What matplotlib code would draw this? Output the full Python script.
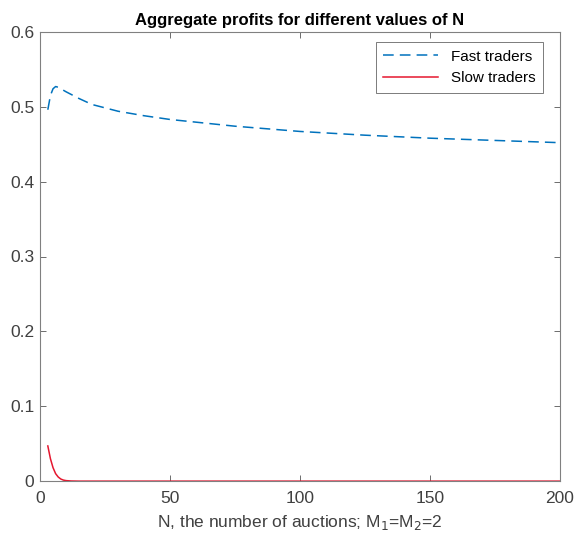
import matplotlib
matplotlib.use("Agg")
import matplotlib.pyplot as plt

n_fast = [3, 4, 5, 6, 7, 8, 10, 15, 20, 30, 40, 50, 75, 100, 125, 150, 175, 200]
fast = [0.496, 0.515, 0.524, 0.527, 0.526, 0.524, 0.520, 0.511, 0.503, 0.494, 0.488, 0.483,
        0.474, 0.467, 0.462, 0.458, 0.455, 0.452]
n_slow = [3, 4, 5, 6, 7, 8, 9, 10, 12, 15, 20, 50, 100, 150, 200]
slow = [0.047, 0.030, 0.018, 0.010, 0.0055, 0.0028, 0.0014, 0.0007, 0.0002, 0.0, 0.0, 0.0, 0.0, 0.0, 0.0]

xticks = [0, 50, 100, 150, 200]
yticks = [0, 0.1, 0.2, 0.3, 0.4, 0.5, 0.6]

plt.rcParams['font.family'] = ['Liberation Sans', 'DejaVu Sans']
fig = plt.figure(figsize=(5.75, 5.4), dpi=100)
ax = fig.add_axes([0.0696, 0.109, 0.9044, 0.832])

ax.plot(n_fast, fast, color='#0072BD', linestyle=(0, (7, 4)), linewidth=1.1, label='Fast traders')
ax.plot(n_slow, slow, color='#E5172F', linestyle='-', linewidth=1.1, label='Slow traders')

ax.set_xlim(0, 200)
ax.set_ylim(0, 0.6)
ax.set_xticks(xticks)
ax.set_xticklabels([str(v) for v in xticks])
ax.set_yticks(yticks)
ax.set_yticklabels(['0' if v == 0 else f'{v:.1f}' for v in yticks])
ax.tick_params(direction='in', top=True, right=True, labelsize=12.5, labelcolor='#404040',
               color='#555555', length=4, width=0.6, pad=4)
ax.tick_params(axis='x', pad=7)
for s in ax.spines.values():
    s.set_color('#808080')
    s.set_linewidth(0.8)

ax.set_title('Aggregate profits for different values of N', fontsize=12, fontweight='bold', pad=5)
ax.set_xlabel('N, the number of auctions; M$_1$=M$_2$=2', fontsize=12.5, color='#404040', labelpad=5)

leg = ax.legend(loc='upper right', fontsize=11, frameon=True, fancybox=False,
                edgecolor='#404040', handlelength=3.6, borderpad=0.5, borderaxespad=0,
                bbox_to_anchor=(0.967, 0.977))
leg.get_frame().set_linewidth(0.6)

fig.savefig('out.png', dpi=100, facecolor='white')
